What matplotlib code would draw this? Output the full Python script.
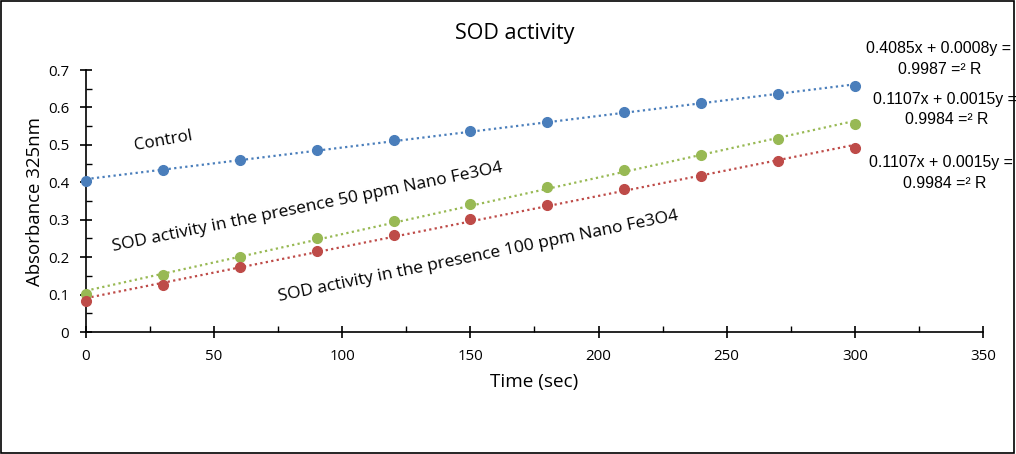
import numpy as np
import matplotlib
matplotlib.use("Agg")
import matplotlib.pyplot as plt
from matplotlib.ticker import MultipleLocator

time_sec = [0, 30, 60, 90, 120, 150, 180, 210, 240, 270, 300]
control = [0.404, 0.433, 0.460, 0.485, 0.513, 0.537, 0.562, 0.587, 0.612, 0.636, 0.657]
nano50 = [0.102, 0.152, 0.200, 0.251, 0.297, 0.343, 0.388, 0.433, 0.473, 0.515, 0.555]
nano100 = [0.084, 0.126, 0.174, 0.217, 0.259, 0.301, 0.340, 0.381, 0.418, 0.457, 0.492]
series_colors = ["#4a7ebb", "#98b954", "#be4b48"]
eq_lines = [("0.4085x + 0.0008y =", "0.9987 =\u00b2 R"),
            ("0.1107x + 0.0015y =", "0.9984 =\u00b2 R"),
            ("0.1107x + 0.0015y =", "0.9984 =\u00b2 R")]

plt.rcParams['font.family'] = ['Open Sans', 'DejaVu Sans']
fig = plt.figure(figsize=(10.16, 4.54), dpi=100)
ax = fig.add_axes([0.0846, 0.2687, 0.8829, 0.5771])

x = np.array(time_sec)
for ys, c in zip([control, nano50, nano100], series_colors):
    y = np.array(ys)
    k, b = np.polyfit(x, y, 1)
    ax.plot([x[0], x[-1]], [k * x[0] + b, k * x[-1] + b], ls=(0, (1, 1.5)), lw=1.6, color=c, zorder=2)
    ax.plot(x, y, 'o', ms=7, color=c, zorder=3, clip_on=False)

ax.set_xlim(0, 350)
ax.set_ylim(0, 0.7)
ax.xaxis.set_major_locator(MultipleLocator(50))
ax.xaxis.set_minor_locator(MultipleLocator(25))
ax.yaxis.set_minor_locator(MultipleLocator(0.05))
ax.set_yticks(np.arange(0, 0.71, 0.1))
ax.set_yticklabels(["0"] + [f"{v:.1f}" for v in np.arange(0.1, 0.71, 0.1)])
for s in ['top', 'right']:
    ax.spines[s].set_visible(False)
for s in ['left', 'bottom']:
    ax.spines[s].set_linewidth(1.2)
ax.tick_params(axis='both', which='major', direction='inout', length=8, width=1.2, labelsize=10.8, colors='black', pad=8)
ax.tick_params(axis='both', which='minor', direction='in', length=4, width=1.0)

ax.set_xlabel("Time (sec)", fontsize=13.6, labelpad=7)
ax.set_ylabel("Absorbance 325nm", fontsize=13.4, labelpad=3)
fig.text(515 / 1016, 1 - 34 / 454, "SOD activity", ha='center', va='center', fontsize=15.5)

ax.text(30, 0.51, "Control", rotation=10, ha='center', va='center', fontsize=12.2)
fig.text(307 / 1016, 1 - 207 / 454, "SOD activity in the presence 50 ppm Nano Fe3O4",
         rotation=11.5, ha='center', va='center', fontsize=12.5)
fig.text(478 / 1016, 1 - 256 / 454, "SOD activity in the presence 100 ppm Nano Fe3O4",
         rotation=11.5, ha='center', va='center', fontsize=12.5)

eq_pos = [(938, 48, 940, 70), (945, 100, 947, 120), (941, 163, 945, 183)]
for (l1, l2), (x1, y1, x2, y2) in zip(eq_lines, eq_pos):
    fig.text(x1 / 1016, 1 - y1 / 454, l1, ha='center', va='center', fontsize=11.4, family='Liberation Sans')
    fig.text(x2 / 1016, 1 - y2 / 454, l2, ha='center', va='center', fontsize=11.4, family='Liberation Sans')

fig.patches.append(plt.Rectangle((0.001, 0.002), 0.997, 0.996, transform=fig.transFigure,
                                 fill=False, edgecolor='black', lw=1.2))
fig.savefig("out.png", dpi=100)
